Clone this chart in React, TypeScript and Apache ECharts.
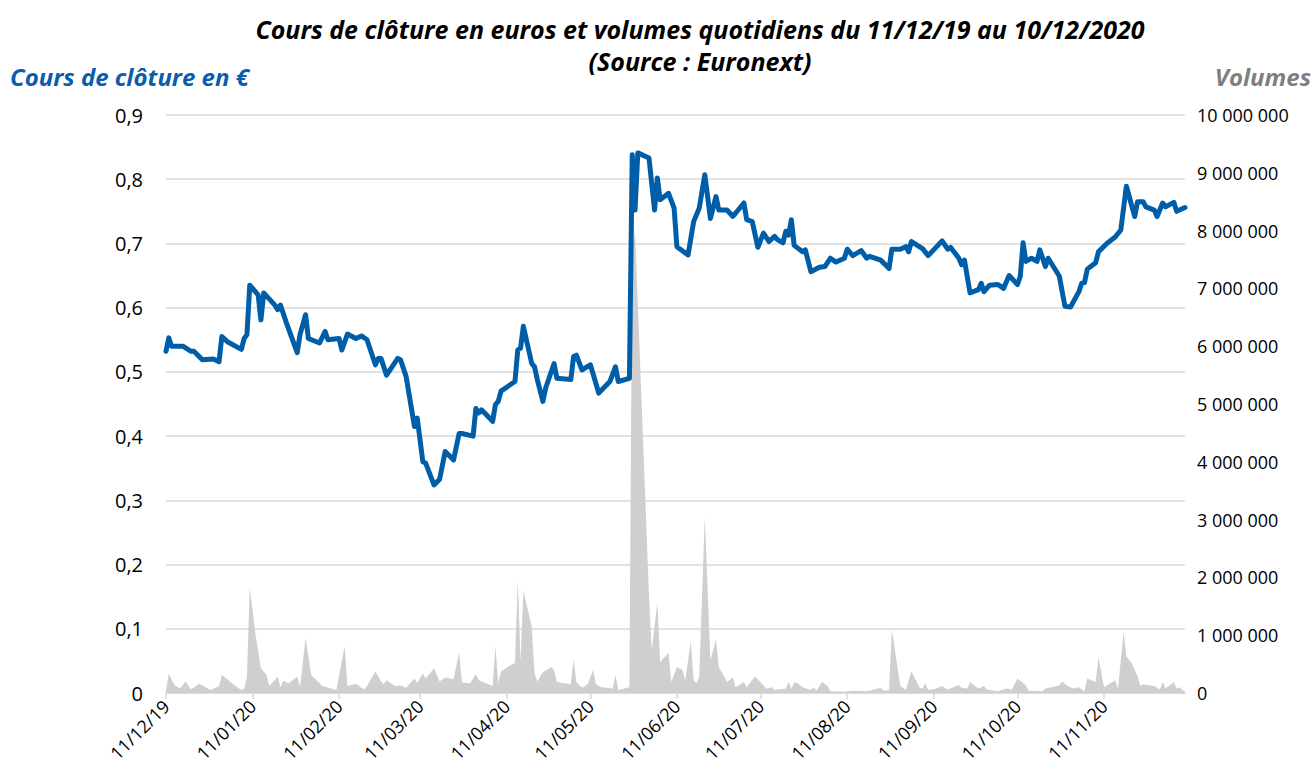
import React, { useEffect, useRef } from "react";
import * as echarts from "echarts";

// Calendar days from 11/12/2019 to 10/12/2020 (day offset 0..365)
const START_UTC = Date.UTC(2019, 11, 11);
const DAY_COUNT = 366;

const tickLabels = [
  "11/12/19", "11/01/20", "11/02/20", "11/03/20", "11/04/20", "11/05/20",
  "11/06/20", "11/07/20", "11/08/20", "11/09/20", "11/10/20", "11/11/20",
];

// [day offset from 11/12/19, closing price in €]
const closePoints: [number, number][] = [
  [0, 0.532], [1, 0.553], [2, 0.54], [6, 0.54], [9, 0.532], [10, 0.532], [13, 0.519], [17, 0.52],
  [19, 0.516], [20, 0.555], [22, 0.547], [27, 0.535], [28, 0.552], [29, 0.558], [30, 0.635], [33, 0.62],
  [34, 0.581], [35, 0.623], [39, 0.604], [40, 0.597], [41, 0.604], [43, 0.578], [47, 0.53], [48, 0.558],
  [50, 0.589], [51, 0.552], [55, 0.545], [57, 0.563], [58, 0.55], [62, 0.552], [63, 0.534], [65, 0.559],
  [68, 0.552], [70, 0.556], [72, 0.55], [75, 0.511], [76, 0.521], [77, 0.521], [79, 0.495], [83, 0.521],
  [84, 0.519], [86, 0.493], [89, 0.415], [90, 0.428], [92, 0.36], [93, 0.358], [96, 0.324], [98, 0.333],
  [100, 0.376], [103, 0.363], [105, 0.404], [106, 0.404], [110, 0.4], [111, 0.443], [112, 0.436], [113, 0.441],
  [117, 0.423], [118, 0.449], [119, 0.454], [120, 0.47], [125, 0.485], [126, 0.534], [127, 0.537], [128, 0.571],
  [131, 0.513], [132, 0.508], [133, 0.488], [135, 0.454], [136, 0.475], [139, 0.513], [140, 0.49], [145, 0.488],
  [146, 0.524], [147, 0.526], [149, 0.503], [152, 0.511], [155, 0.467], [159, 0.485], [161, 0.508], [162, 0.485],
  [166, 0.49], [167, 0.838], [168, 0.752], [169, 0.841], [173, 0.833], [175, 0.752], [176, 0.802], [177, 0.768],
  [180, 0.778], [182, 0.755], [183, 0.695], [187, 0.682], [189, 0.734], [191, 0.755], [193, 0.807], [195, 0.739],
  [197, 0.773], [198, 0.752], [201, 0.752], [203, 0.742], [204, 0.747], [207, 0.763], [208, 0.737], [210, 0.734],
  [212, 0.694], [214, 0.716], [216, 0.703], [218, 0.711], [219, 0.706], [221, 0.701], [222, 0.719], [223, 0.713],
  [224, 0.737], [225, 0.697], [228, 0.687], [229, 0.69], [231, 0.656], [234, 0.663], [236, 0.664], [238, 0.677],
  [240, 0.671], [243, 0.677], [244, 0.691], [246, 0.681], [249, 0.689], [251, 0.677], [252, 0.68], [256, 0.674],
  [259, 0.661], [260, 0.691], [263, 0.691], [265, 0.695], [266, 0.687], [267, 0.703], [271, 0.692], [273, 0.681],
  [278, 0.704], [280, 0.691], [281, 0.694], [284, 0.677], [285, 0.667], [286, 0.674], [288, 0.623], [291, 0.628],
  [292, 0.638], [293, 0.625], [295, 0.635], [298, 0.636], [300, 0.63], [302, 0.65], [305, 0.636], [306, 0.649],
  [307, 0.701], [308, 0.672], [310, 0.677], [312, 0.672], [313, 0.69], [315, 0.664], [316, 0.677], [320, 0.649],
  [321, 0.625], [322, 0.602], [324, 0.601], [327, 0.625], [328, 0.638], [329, 0.639], [330, 0.66], [333, 0.67],
  [334, 0.687], [337, 0.7], [340, 0.71], [342, 0.721], [344, 0.789], [347, 0.742], [348, 0.765], [350, 0.765],
  [351, 0.757], [354, 0.752], [355, 0.742], [357, 0.763], [358, 0.757], [361, 0.764], [362, 0.75], [365, 0.756],
];

// [day offset from 11/12/19, daily volume]
const volumePoints: [number, number][] = [
  [0, 50000], [1, 330000], [3, 140000], [5, 80000], [7, 200000], [9, 60000], [12, 160000], [16, 50000],
  [19, 120000], [20, 310000], [22, 240000], [24, 150000], [27, 50000], [28, 80000], [29, 280000], [30, 1830000],
  [32, 1030000], [34, 430000], [36, 310000], [37, 120000], [40, 280000], [41, 100000], [42, 210000], [44, 170000],
  [47, 280000], [48, 100000], [50, 950000], [52, 310000], [56, 120000], [61, 50000], [64, 810000], [65, 120000],
  [68, 160000], [71, 60000], [72, 120000], [75, 370000], [77, 200000], [78, 150000], [79, 220000], [82, 120000],
  [84, 130000], [86, 90000], [89, 250000], [90, 170000], [92, 340000], [93, 250000], [96, 430000], [98, 200000],
  [100, 270000], [103, 240000], [105, 700000], [106, 180000], [109, 170000], [111, 330000], [112, 220000], [117, 120000],
  [118, 810000], [119, 170000], [120, 370000], [123, 470000], [125, 520000], [126, 1980000], [127, 550000], [128, 1770000],
  [131, 1150000], [132, 340000], [133, 200000], [135, 360000], [138, 450000], [139, 400000], [140, 190000], [145, 150000],
  [146, 580000], [147, 190000], [149, 90000], [151, 150000], [153, 400000], [154, 150000], [156, 100000], [160, 80000],
  [161, 310000], [162, 50000], [166, 100000], [167, 7700000], [168, 8000000], [173, 1700000], [174, 740000], [176, 1560000],
  [177, 540000], [180, 690000], [181, 190000], [183, 450000], [185, 400000], [186, 220000], [188, 900000], [189, 220000],
  [190, 170000], [191, 280000], [193, 3050000], [195, 570000], [197, 920000], [198, 450000], [201, 190000], [203, 270000],
  [204, 100000], [207, 190000], [208, 100000], [211, 290000], [215, 80000], [217, 100000], [218, 50000], [222, 80000],
  [223, 190000], [224, 80000], [225, 180000], [226, 180000], [228, 100000], [231, 50000], [232, 100000], [233, 40000],
  [235, 190000], [237, 120000], [238, 30000], [243, 20000], [246, 40000], [251, 30000], [253, 50000], [256, 90000],
  [257, 40000], [259, 50000], [260, 1090000], [263, 130000], [265, 50000], [267, 370000], [270, 90000], [271, 80000],
  [272, 170000], [273, 50000], [276, 80000], [278, 120000], [280, 60000], [284, 140000], [285, 90000], [287, 80000],
  [288, 190000], [291, 80000], [293, 120000], [294, 60000], [298, 30000], [301, 80000], [303, 60000], [305, 250000],
  [308, 130000], [309, 40000], [314, 30000], [315, 80000], [320, 130000], [321, 200000], [323, 120000], [325, 80000],
  [327, 100000], [329, 30000], [330, 250000], [333, 190000], [334, 620000], [336, 100000], [337, 130000], [340, 220000],
  [341, 80000], [343, 1060000], [344, 630000], [346, 510000], [348, 290000], [349, 120000], [350, 150000], [354, 120000],
  [356, 60000], [357, 190000], [358, 80000], [361, 190000], [362, 80000], [363, 100000], [364, 50000], [365, 30000],
];

const TITLE_LINE_1 = "Cours de clôture en euros et volumes quotidiens du 11/12/19 au 10/12/2020";
const TITLE_LINE_2 = "(Source : Euronext)";
const LEFT_NAME = "Cours de clôture en €";
const RIGHT_NAME = "Volumes";

const pad = (n: number) => (n < 10 ? "0" + n : "" + n);
const categories: string[] = [];
for (let i = 0; i < DAY_COUNT; i++) {
  const d = new Date(START_UTC + i * 86400000);
  categories.push(`${pad(d.getUTCDate())}/${pad(d.getUTCMonth() + 1)}/${String(d.getUTCFullYear()).slice(2)}`);
}

function toSeries(points: [number, number][]): (number | null)[] {
  const arr: (number | null)[] = new Array(DAY_COUNT).fill(null);
  points.forEach(([d, v]) => {
    arr[d] = v;
  });
  return arr;
}

const FONT = "'Open Sans', sans-serif";

export default function App() {
  const ref = useRef<HTMLDivElement>(null);

  useEffect(() => {
    document.body.style.margin = "0";
    if (!ref.current) return;
    const chart = echarts.init(ref.current, null, { renderer: "svg" });
    const isTick = (_i: number, v: string) => tickLabels.includes(v);
    chart.setOption({
      animation: false,
      backgroundColor: "#ffffff",
      textStyle: { fontFamily: FONT },
      grid: { left: 166, right: 130, top: 115, bottom: 85, containLabel: false },
      graphic: [
        {
          type: "text",
          x: 700,
          y: 29,
          style: {
            text: TITLE_LINE_1,
            textAlign: "center",
            textVerticalAlign: "middle",
            font: `italic bold 25px ${FONT}`,
            fill: "#000000",
          },
        },
        {
          type: "text",
          x: 700,
          y: 61,
          style: {
            text: TITLE_LINE_2,
            textAlign: "center",
            textVerticalAlign: "middle",
            font: `italic bold 25px ${FONT}`,
            fill: "#000000",
          },
        },
        {
          type: "text",
          x: 10,
          y: 76,
          style: {
            text: LEFT_NAME,
            textAlign: "left",
            textVerticalAlign: "middle",
            font: `italic bold 24px ${FONT}`,
            fill: "#0B5CAD",
          },
        },
        {
          type: "text",
          x: 1311,
          y: 76,
          style: {
            text: RIGHT_NAME,
            textAlign: "right",
            textVerticalAlign: "middle",
            font: `italic bold 24px ${FONT}`,
            fill: "#7F7F7F",
          },
        },
      ],
      xAxis: {
        type: "category",
        data: categories,
        boundaryGap: false,
        axisLine: { show: true, lineStyle: { color: "#D9D9D9", width: 1.5 } },
        axisTick: { show: true, interval: isTick, length: 6, lineStyle: { color: "#D9D9D9", width: 1.5 } },
        axisLabel: {
          interval: isTick,
          rotate: 45,
          margin: 10,
          fontSize: 18,
          color: "#000000",
          fontFamily: FONT,
        },
        splitLine: { show: false },
      },
      yAxis: [
        {
          type: "value",
          min: 0,
          max: 0.9,
          interval: 0.1,
          axisLine: { show: false },
          axisTick: { show: false },
          axisLabel: {
            margin: 23,
            fontSize: 20,
            color: "#000000",
            fontFamily: FONT,
            formatter: (v: number) => (Math.round(v * 10) / 10).toString().replace(".", ","),
          },
          splitLine: { show: true, lineStyle: { color: "#D9D9D9", width: 1.5 } },
        },
        {
          type: "value",
          min: 0,
          max: 10000000,
          interval: 1000000,
          axisLine: { show: false },
          axisTick: { show: false },
          axisLabel: {
            margin: 12,
            fontSize: 18,
            color: "#000000",
            fontFamily: FONT,
            formatter: (v: number) => Math.round(v).toString().replace(/\B(?=(\d{3})+(?!\d))/g, " "),
          },
          splitLine: { show: false },
        },
      ],
      series: [
        {
          name: "Volumes",
          type: "line",
          yAxisIndex: 1,
          data: toSeries(volumePoints),
          connectNulls: true,
          showSymbol: false,
          symbol: "none",
          lineStyle: { width: 0, color: "#D0CECE" },
          areaStyle: { color: "#D0CECE", opacity: 1 },
          z: 1,
        },
        {
          name: "Cours",
          type: "line",
          yAxisIndex: 0,
          data: toSeries(closePoints),
          connectNulls: true,
          showSymbol: false,
          symbol: "none",
          lineStyle: { width: 5, color: "#005EA8", join: "round", cap: "round" },
          z: 3,
        },
      ],
    });
    return () => chart.dispose();
  }, []);

  return <div ref={ref} style={{ width: 1315, height: 778 }} />;
}
